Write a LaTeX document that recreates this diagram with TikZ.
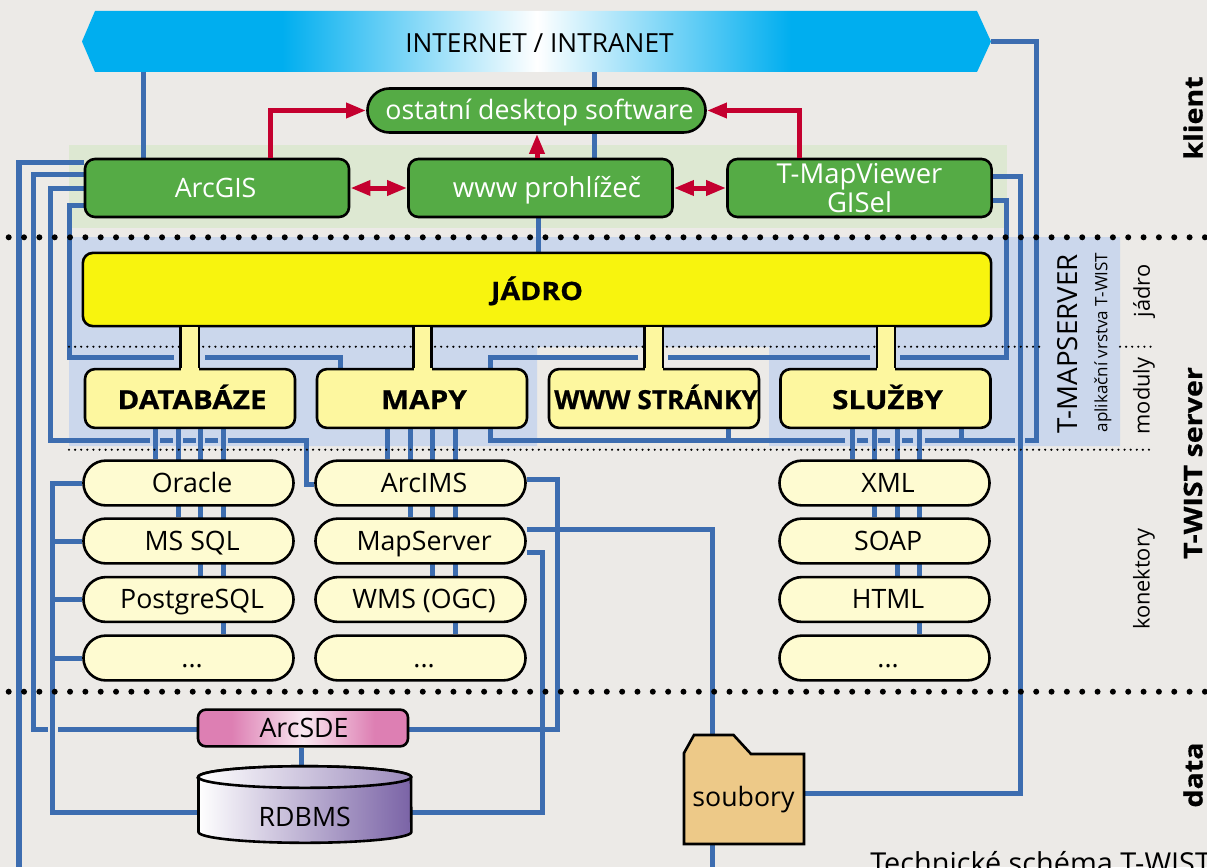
\documentclass[tikz,border=0pt]{standalone}
\usepackage{fontspec}
\setmainfont{Open Sans}
\newfontfamily\heavyfont[BoldFeatures={FakeStretch=1.13,FakeBold=.6}]{Open Sans}
\usetikzlibrary{arrows.meta, positioning, shapes.geometric, calc, backgrounds}

\definecolor{paper}{HTML}{ECEAE7}
\definecolor{panelgreen}{HTML}{DDE8D2}
\definecolor{panelblue}{HTML}{CBD7EC}
\definecolor{wireblue}{HTML}{3D6DB0}
\definecolor{arrowred}{HTML}{C4002F}
\definecolor{boxgreen}{HTML}{55AB45}
\definecolor{corefill}{HTML}{F8F40E}
\definecolor{modfill}{HTML}{FDF79F}
\definecolor{connfill}{HTML}{FEFBD1}
\definecolor{netcyan}{HTML}{00AEEF}
\definecolor{sdepink}{HTML}{DD7FB3}
\definecolor{sdelight}{HTML}{F9E8F1}
\definecolor{dbpurple}{HTML}{7A63A6}
\definecolor{folderfill}{HTML}{EDC988}

\pgfdeclarehorizontalshading{netshade}{100bp}{color(0bp)=(netcyan); color(36bp)=(netcyan); color(50bp)=(white); color(64bp)=(netcyan); color(100bp)=(netcyan)}
\pgfdeclarehorizontalshading{sdeshade}{100bp}{color(0bp)=(sdepink); color(33bp)=(sdepink); color(50bp)=(sdelight); color(67bp)=(sdepink); color(100bp)=(sdepink)}

\tikzset{
    anybox/.style={draw=black, line width=.065cm, inner sep=0pt, font=\fontsize{19}{20}\selectfont},
    oneline/.style={text height=13pt, text depth=0pt},
    greenbox/.style={anybox, fill=boxgreen, text=white, rounded corners=.25cm, minimum width=6.6cm, minimum height=1.45cm},
    modbox/.style={anybox, text height=15pt, text depth=0pt, fill=modfill, rounded corners=.25cm, minimum width=5.25cm, minimum height=1.47cm, font=\fontsize{18.7}{20}\heavyfont\bfseries\selectfont, execute at begin node=\hspace*{.1cm}},
    connbox/.style={anybox, oneline, fill=connfill, rounded corners=.56cm, minimum width=5.25cm, minimum height=1.12cm, execute at begin node=\hspace*{.18cm}},
    wire/.style={draw=wireblue, line width=.125cm},
    redline/.style={draw=arrowred, line width=.125cm},
    redtip/.style={redline, -{Triangle[length=.5cm,width=.36cm]}},
    redboth/.style={redline, {Triangle[length=.5cm,width=.36cm]}-{Triangle[length=.5cm,width=.36cm]}},
    thickdots/.style={line width=.15cm, line cap=round, dash pattern=on 0pt off .3833cm},
    thindots/.style={line width=.06cm, line cap=round, dash pattern=on 0pt off .1525cm},
    sidetext/.style={rotate=90, inner sep=0pt, font=\fontsize{15.5}{18}\selectfont},
    layertext/.style={rotate=90, inner sep=0pt, font=\fontsize{18}{20}\heavyfont\bfseries\selectfont},
}

\begin{document}
\begin{tikzpicture}[x=.025cm, y=-.025cm]
    \useasboundingbox (0,0) rectangle (1207,867);
    \clip (0,0) rectangle (1207,867);

    \begin{pgfonlayer}{background}
        \fill[paper] (0,0) rectangle (1207,867);
        \fill[panelgreen] (69,145) rectangle (1007,228);
        \fill[panelblue] (69,237) -- (1120,237) -- (1120,446) -- (769,446) -- (769,347) -- (537,347) -- (537,446) -- (69,446) -- cycle;
    \end{pgfonlayer}

    % dividers
    \draw[thickdots] (8.7,237.3) -- (1207,237.3);
    \draw[thickdots] (8.7,691.7) -- (1207,691.7);
    \draw[thindots] (69,346.7) -- (1043,346.7);
    \draw[thindots] (1120,346.7) -- (1153,346.7);
    \draw[thindots] (69,449.7) -- (1153,449.7);

    % top
    \shade[shading=netshade] (82,41.5) -- (95,11) -- (977,11) -- (991,41.5) -- (977,72) -- (95,72) -- cycle;
    \node (internet) at (536.5,41.5) [minimum width=22.7cm, minimum height=1.52cm, inner sep=0pt, font=\fontsize{18.7}{20}\selectfont, text height=15pt, text depth=0pt, execute at begin node=\hspace*{.15cm}] {INTERNET / INTRANET};
    \node[greenbox, oneline, rounded corners=.55cm, minimum width=8.45cm, minimum height=1.1cm, execute at begin node=\hspace*{.15cm}] (desktop) at (536.5,110.5) {ostatní desktop software};
    \node[greenbox, oneline, execute at begin node=\hspace*{-.07cm}] (arcgis) at (217,188) {ArcGIS};
    \node[greenbox, oneline, font=\fontsize{19.6}{20}\selectfont, execute at begin node=\hspace*{.325cm}] (browser) at (540.5,188) {www prohlížeč};
    \node[greenbox, align=center, font=\fontsize{19.5}{20.5}\selectfont] (viewer) at (859.5,188) {T-MapViewer\\GISel};

    % server
    \node[anybox, text height=15pt, text depth=0pt, fill=corefill, rounded corners=.25cm, minimum width=22.7cm, minimum height=1.83cm, font=\fontsize{18}{20}\heavyfont\bfseries\selectfont] (jadro) at (537,289.5) {JÁDRO};
    \node[modbox] (databaze) at (190,398.5) {DATABÁZE};
    \node[modbox] (mapy) at (422,398.5) {MAPY};
    \node[modbox] (stranky) at (654,398.5) {\scalebox{.885}[1]{WWW STRÁNKY}};
    \node[modbox] (sluzby) at (885.5,398.5) {SLUŽBY};

    \node[connbox] (oracle) at (188.5,483) {Oracle};
    \node[connbox] (mssql) at (188.5,541) {MS SQL};
    \node[connbox] (postgre) at (188.5,599.5) {PostgreSQL};
    \node[connbox] (dbmore) at (188.5,658) {...};
    \node[connbox] (arcims) at (420.5,483) {ArcIMS};
    \node[connbox] (mapserver) at (420.5,541) {MapServer};
    \node[connbox] (wms) at (420.5,599.5) {WMS (OGC)};
    \node[connbox] (mapmore) at (420.5,658) {...};
    \node[connbox] (xml) at (884.5,483) {XML};
    \node[connbox] (soap) at (884.5,541) {SOAP};
    \node[connbox] (html) at (884.5,599.5) {HTML};
    \node[connbox] (wsmore) at (884.5,658) {...};

    % data
    \node[anybox, oneline, rounded corners=.2cm, shade, shading=sdeshade, minimum width=5.25cm, minimum height=.92cm, execute at begin node=\hspace*{.05cm}] (arcsde) at (303,728) {ArcSDE};
    \path[draw=black, line width=.065cm, left color=white, right color=dbpurple] (198.5,777) -- (198.5,832) arc[start angle=180, end angle=360, x radius=2.66cm, y radius=.27cm] -- (411,777) arc[start angle=0, end angle=180, x radius=2.66cm, y radius=.27cm] -- cycle;
    \path[draw=black, line width=.065cm, left color=white, right color=dbpurple!75] (304.75,777) ellipse [x radius=2.66cm, y radius=.27cm];
    \node[inner sep=0pt, minimum width=5.3cm, minimum height=1.9cm, font=\fontsize{19}{20}\selectfont, oneline] (rdbms) at (304.75,806) {\raisebox{-.275cm}{RDBMS}};
    \path[draw=black, line width=.065cm, fill=folderfill] (684,844) -- (684,753) -- (694,735) -- (733.5,735) -- (751,754) -- (804,754) -- (804,844) -- cycle;
    \node[inner sep=0pt, minimum width=3cm, minimum height=2.7cm, font=\fontsize{19}{20}\selectfont, text height=2pt, text depth=0pt] (soubory) at (743.5,789.5) {\raisebox{-.39cm}{soubory}};

    % texts at the right
    \node[sidetext, font=\fontsize{19.7}{22}\selectfont] (tmapserver) at (1068,344) {T-MAPSERVER};
    \node[sidetext, font=\fontsize{12.1}{14}\selectfont] (vrstva) at (1103,342.5) {aplikační vrstva T-WIST};
    \node[sidetext] (tjadro) at (1144,291) {jádro};
    \node[sidetext] (tmoduly) at (1144,396) {moduly};
    \node[sidetext] (tkonektory) at (1144,579) {konektory};
    \node[layertext] (tklient) at (1193,118) {klient};
    \node[layertext] (tserver) at (1193,463) {T-WIST server};
    \node[layertext] (tdata) at (1193,775) {data};
    \node[anchor=base west, inner sep=0pt, font=\fontsize{20.5}{22}\selectfont] (caption) at (870,873.5) {Technické schéma T-WIST};

    % links from the module boxes up to the core
    \foreach \stemleft/\stemright/\stemto in {180.5/199/databaze, 413.5/431.5/mapy, 644.5/663/stranky, 877/895/sluzby} {
        \fill[modfill] (jadro.south -| \stemleft,0) rectangle ([yshift=-.09cm]\stemto.north -| \stemright,0);
        \draw[line width=.065cm] (jadro.south -| \stemleft,0) -- (\stemto.north -| \stemleft,0);
        \draw[line width=.065cm] (jadro.south -| \stemright,0) -- (\stemto.north -| \stemright,0);
    }

    % red arrows
    \draw[redtip] (arcgis.north -| 270,0) |- (desktop.west);
    \draw[redtip] (viewer.north -| 799,0) |- (desktop.east);
    \draw[redtip] (browser.north -| 537,0) -- (desktop.south -| 537,0);
    \draw[redboth] (arcgis.east) -- (browser.west);
    \draw[redboth] (browser.east) -- (viewer.west);

    \begin{pgfonlayer}{background}
        % top links
        \draw[wire] (internet.south -| 143,0) -- (arcgis.north -| 143,0);
        \draw[wire] (internet.south -| 594,0) -- (browser.north -| 594,0);
        \draw[wire] (browser.south -| 538,0) -- (jadro.north -| 538,0);
        \draw[wire] (internet.east) -- (1036,41.5) -- (1036,440.5) -- (1025,440.5) (1015,440.5) -- (925,440.5)
            (913,440.5) -- (902,440.5) (890,440.5) -- (878,440.5) (868,440.5) -- (857,440.5)
            (845,440.5) -- (490,440.5) -- (mapy.south -| 490,0);
        \draw[wire] (stranky.south -| 728.5,0) -- (728.5,440.5);
        \draw[wire] (sluzby.south -| 961,0) -- (961,440.5);

        % links from the clients
        \draw[wire] (viewer.east |- 0,176) -- (1020,176) -- (1020,793) -- (soubory.east |- 0,793);
        \draw[wire] (viewer.east |- 0,200) -- (1006.5,200) -- (1006.5,357) -- (900,357) (870,357) -- (668,357) (638,357) -- (490,357) -- (mapy.north -| 490,0);
        \draw[wire] (arcgis.west |- 0,205) -- (69,205) -- (69,357) -- (174,357) (205,357) -- (340.5,357) -- (mapy.north -| 340.5,0);
        \draw[wire] (arcgis.west |- 0,162.5) -- (19,162.5) -- (19,867);
        \draw[wire] (arcgis.west |- 0,174) -- (33.5,174) -- (33.5,729) -- (47.5,729) (58,729) -- (arcsde.west |- 0,729);
        \draw[wire] (arcgis.west |- 0,188) -- (50,188) -- (50,440.7) -- (150,440.7) (160,440.7) -- (173,440.7)
            (183,440.7) -- (196,440.7) (205,440.7) -- (218,440.7) (228,440.7) -- (306.5,440.7) -- (306.5,484) -- (arcims.west |- 0,484);

        % module to connector
        \foreach \wirex/\wirefrom/\wireto in {155/databaze/oracle, 178/databaze/mssql, 200/databaze/postgre, 223/databaze/dbmore,
            387/mapy/arcims, 410/mapy/mapserver, 432/mapy/wms, 455/mapy/mapmore,
            852/sluzby/xml, 874/sluzby/soap, 897/sluzby/html, 919/sluzby/wsmore} {
            \draw[wire] (\wirefrom.south -| \wirex,0) -- (\wireto.north -| \wirex,0);
        }

        % connectors to data
        \draw[wire] (oracle.west) -- (52.5,483) -- (52.5,812.5) -- (rdbms.west |- 0,812.5);
        \draw[wire] (52.5,541) -- (mssql.west);
        \draw[wire] (52.5,599.5) -- (postgre.west);
        \draw[wire] (52.5,658) -- (dbmore.west);
        \draw[wire] (arcims.east |- 0,479) -- (557,479) -- (557,729) -- (arcsde.east |- 0,729);
        \draw[wire] (mapserver.east |- 0,529) -- (712.5,529) -- (soubory.north -| 712.5,0);
        \draw[wire] (soubory.south -| 712.5,0) -- (712.5,867);
        \draw[wire] (mapserver.east |- 0,552) -- (542,552) -- (542,812.5) -- (rdbms.east |- 0,812.5);
        \draw[wire] (arcsde.south -| 301.5,0) -- (rdbms.north -| 301.5,0);
    \end{pgfonlayer}
\end{tikzpicture}
\end{document}
